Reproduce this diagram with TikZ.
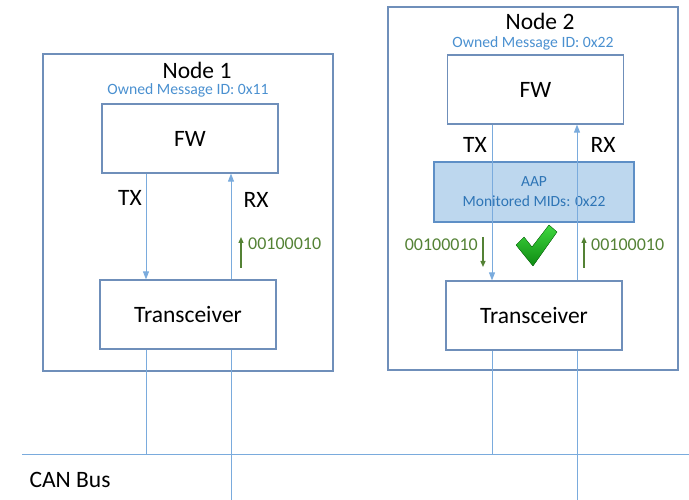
\documentclass[tikz,border=0pt]{standalone}
\usepackage{fontspec}
\setmainfont{Carlito}
\usetikzlibrary{arrows.meta}

\definecolor{frameBlue}{HTML}{6F8FBA}
\definecolor{wireBlue}{HTML}{7AABDD}
\definecolor{idBlue}{HTML}{4A90D0}
\definecolor{aapFill}{HTML}{BDD7EE}
\definecolor{aapLine}{HTML}{5E8FC6}
\definecolor{aapText}{HTML}{2E75B6}
\definecolor{bitGreen}{HTML}{548235}
\definecolor{tickLight}{HTML}{3FD83F}
\definecolor{tickDark}{HTML}{0E8A12}

\tikzstyle{nodeFrame} = [rectangle, minimum width=290pt, inner sep=0pt, draw=frameBlue, line width=1.4pt]
\tikzstyle{block} = [rectangle, minimum width=176pt, minimum height=69pt, inner sep=0pt, text centered, draw=frameBlue, line width=1.2pt, font=\fontsize{23.5}{27}\selectfont]
\tikzstyle{monitor} = [rectangle, minimum width=200pt, minimum height=60pt, inner sep=0pt, align=center, fill=aapFill, draw=aapLine, line width=1.2pt, text=aapText, font=\fontsize{15.5}{20}\selectfont]
\tikzstyle{title} = [font=\fontsize{23.5}{27}\selectfont]
\tikzstyle{ownedID} = [text=idBlue, font=\fontsize{15.7}{18}\selectfont]
\tikzstyle{bits} = [text=bitGreen, font=\fontsize{18}{20}\selectfont, inner sep=0pt]
\tikzstyle{arrow} = [line width=0.9pt, draw=wireBlue, -{Triangle[length=8pt,width=6pt]}, wireBlue]
\tikzstyle{wire} = [line width=0.9pt, draw=wireBlue]
\tikzstyle{bitArrow} = [line width=1.3pt, bitGreen, -{Triangle[length=6pt,width=5pt]}]

\begin{document}
\begin{tikzpicture}[x=1pt, y=-1pt]
        \useasboundingbox (0,0) rectangle (689,500);

        % node frames
        \node (node1) [nodeFrame, minimum height=317pt] at (188,212.5) {};
        \node (node2) [nodeFrame, minimum height=363pt] at (533,188.5) {};

        \node (name1) [title] at (197,70) {Node 1};
        \node (owned1) [ownedID] at (188,90) {Owned Message ID: 0x11};
        \node (name2) [title] at (540,21) {Node 2};
        \node (owned2) [ownedID] at (533,43) {Owned Message ID: 0x22};

        % firmware, filter and transceivers
        \node (fw1) [block] at (190,138.5) {FW};
        \node (trx1) [block] at (188,314.5) {Transceiver};
        \node (fw2) [block] at (535.5,89.5) {FW};
        \node (aap) [monitor] at (534,192) {AAP\\Monitored MIDs: 0x22};
        \node (trx2) [block] at (534,315.5) {Transceiver};

        % bus and line positions
        \coordinate (busL) at (22,454);
        \coordinate (busR) at (689,454);
        \coordinate (floor) at (0,500);
        \coordinate (tx1) at (146,0);
        \coordinate (rx1) at (231,0);
        \coordinate (tx2) at (492,0);
        \coordinate (rx2) at (577,0);

        \draw[wire] (busL) -- (busR);
        \node (canbus) [title] at (70,480) {CAN Bus};

        % node 1 links
        \draw[arrow] (tx1 |- fw1.south) -- (tx1 |- trx1.north);
        \draw[arrow] (rx1 |- trx1.north) -- (rx1 |- fw1.south);
        \draw[wire] (tx1 |- trx1.south) -- (tx1 |- busL);
        \draw[wire] (rx1 |- trx1.south) -- (rx1 |- floor);
        \node (lblTX1) [title] at (130,198) {TX};
        \node (lblRX1) [title] at (256,200) {RX};

        % node 2 links
        \draw[arrow] (tx2 |- fw2.south) -- (tx2 |- trx2.north);
        \draw[arrow] (rx2 |- trx2.north) -- (rx2 |- fw2.south);
        \draw[wire] (tx2 |- trx2.south) -- (tx2 |- busL);
        \draw[wire] (rx2 |- trx2.south) -- (rx2 |- floor);
        \node (lblTX2) [title] at (475,145) {TX};
        \node (lblRX2) [title] at (603,145) {RX};

        % received bits
        \coordinate (up1) at (241,268);
        \coordinate (down2) at (483,237);
        \coordinate (up2) at (584,268);
        \draw[bitArrow] (up1) -- ++(0,-31);
        \draw[bitArrow] (down2) -- ++(0,30);
        \draw[bitArrow] (up2) -- ++(0,-31);
        \node (bits1) [bits, anchor=west] at (248,244) {00100010};
        \node (bits2) [bits, anchor=east] at (478,245) {00100010};
        \node (bits3) [bits, anchor=west] at (591,245) {00100010};

        % tick
        \fill[top color=tickLight, bottom color=tickDark, draw=tickDark!80!black, line width=0.3pt]
            (516,245) -- (524,237) -- (532,247) -- (549,225) -- (557,232) -- (533,266) -- cycle;

    \end{tikzpicture}
\end{document}
